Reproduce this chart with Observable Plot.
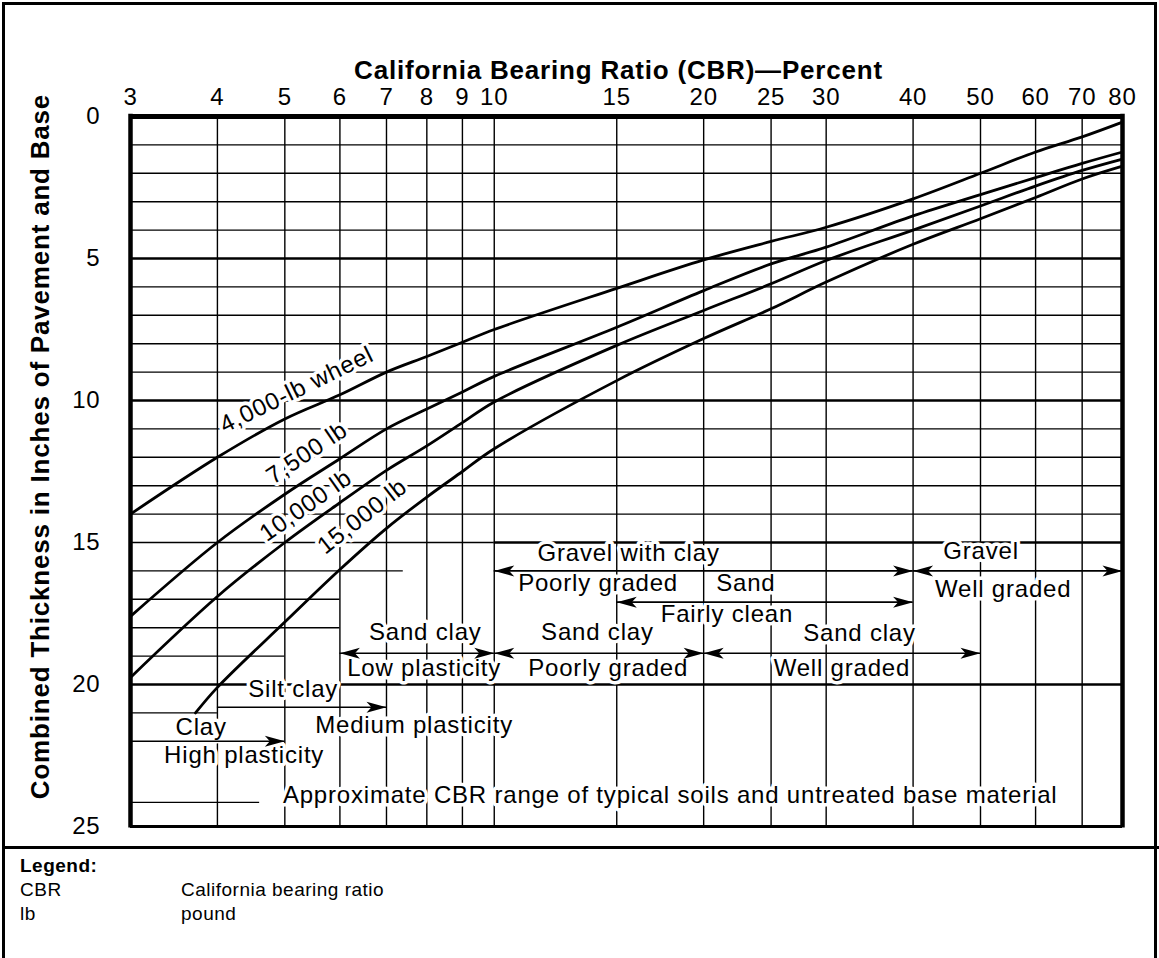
<!DOCTYPE html>
<html>
<head>
<meta charset="utf-8">
<script src="https://cdn.jsdelivr.net/npm/d3@7"></script>
<script src="https://cdn.jsdelivr.net/npm/@observablehq/plot@0.6"></script>
<style>
  body { margin: 0; background: #fff; }
  #wrap { position: relative; width: 1159px; height: 958px; overflow: hidden; font-family: "Liberation Sans", Arial, sans-serif; background:#fff; }
  #chart { position: absolute; left: 0; top: 0; }
  #border { position: absolute; left: 2px; top: 2px; width: 1149px; height: 1000px; border: 3px solid #000; }
  #sep { position: absolute; left: 2px; top: 846px; width: 1157px; height: 3px; background: #000; }
  #legend { position: absolute; left: 20px; top: 854px; font-size: 19px; line-height: 24px; letter-spacing: 0.5px; color: #000; }
  #legend .k { display: inline-block; width: 161px; }
</style>
</head>
<body>
<div id="wrap">
  <div id="chart"></div>
  <div id="border"></div>
  <div id="sep"></div>
  <div id="legend"></div>
</div>
<script>
// ---------- data ----------
const xTitle = "California Bearing Ratio (CBR)\u2014Percent";
const yTitle = "Combined Thickness in Inches of Pavement and Base";
const xTicks = [3, 4, 5, 6, 7, 8, 9, 10, 15, 20, 25, 30, 40, 50, 60, 70, 80];
const yTicks = [0, 5, 10, 15, 20, 25];

const cbr = [3, 4, 5, 6, 7, 8, 9, 10, 15, 20, 25, 30, 40, 50, 60, 70, 80];
const wheel4000  = [14.0, 12.0, 10.65, 9.8, 9.0, 8.45, 7.95, 7.5, 6.05, 5.05, 4.4, 3.9, 2.9, 2.0, 1.25, 0.72, 0.2];
const wheel7500  = [17.6, 15.0, 13.3, 12.05, 11.0, 10.3, 9.7, 9.15, 7.42, 6.13, 5.19, 4.6, 3.5, 2.75, 2.15, 1.65, 1.25];
const wheel10000 = [19.75, 16.9, 15.0, 13.6, 12.46, 11.6, 10.78, 10.05, 8.06, 6.83, 5.89, 5.07, 4.0, 3.15, 2.45, 1.9, 1.5];
const cbr15000   = [3.72, 4, 5, 6, 7, 8, 9, 10, 15, 20, 25, 30, 40, 50, 60, 70, 80];
const wheel15000 = [21.0, 20.1, 17.8, 15.95, 14.5, 13.4, 12.5, 11.7, 9.3, 7.82, 6.77, 5.83, 4.5, 3.6, 2.85, 2.2, 1.75];

const curveLabels = ["4,000-lb wheel", "7,500 lb", "10,000 lb", "15,000 lb"];
const curveLabelCbr = [5.2, 5.38, 5.36, 6.46];
const curveLabelDepth = [9.62, 11.85, 13.7, 14.08];
const curveLabelAngle = [-26, -34, -35, -38];

const soilText  = ["Gravel with clay", "Poorly graded", "Sand", "Fairly clean", "Gravel", "Well graded",
                   "Sand clay", "Low plasticity", "Sand clay", "Poorly graded", "Sand clay", "Well graded",
                   "Silt clay", "Medium plasticity", "Clay", "High plasticity",
                   "Approximate CBR range of typical soils and untreated base material"];
const soilCbr   = [15.6, 14.1, 23.0, 21.6, 50.1, 53.9, 7.96, 7.93, 14.07, 14.58, 33.5, 31.6, 5.14, 7.67, 3.79, 4.37, 17.9];
const soilDepth = [15.38, 16.45, 16.45, 17.52, 15.3, 16.64, 18.16, 19.42, 18.16, 19.42, 18.2, 19.42, 20.18, 21.42, 21.5, 22.5, 23.9];

const rangeDepth = [16, 16, 17.1, 18.9, 18.9, 18.9, 20.8, 22.0];
const rangeFrom  = [10, 40, 15, 6, 10, 20, 4, 3];
const rangeTo    = [40, 80, 40, 10, 20, 50, 7, 5];
const rangeLeftHead = [true, true, true, true, true, true, false, false];

const minorDepths = [1, 2, 3, 4, 6, 7, 8, 9, 11, 12, 13, 14];
const majorDepths = [5, 10, 20];
const partialDepth = [16, 17, 18, 19, 21];
const partialTo    = [7.4, 6, 6, 5, 4];
const leaderDepth = 24.15, leaderTo = 4.6;

const legendKeys = ["CBR", "lb"];
const legendDefs = ["California bearing ratio", "pound"];

// ---------- build ----------
const zip = (xs, ys) => xs.map((x, i) => ({x, y: ys[i]}));
const curves = [
  zip(cbr, wheel4000), zip(cbr, wheel7500), zip(cbr, wheel10000), zip(cbr15000, wheel15000)
];
const curveLab = curveLabels.map((t, i) => ({t, x: curveLabelCbr[i], y: curveLabelDepth[i], a: curveLabelAngle[i]}));
const soil = soilText.map((t, i) => ({t, x: soilCbr[i], y: soilDepth[i]}));
const ranges = rangeDepth.map((y, i) => ({y, x1: rangeFrom[i], x2: rangeTo[i], left: rangeLeftHead[i]}));
const rightHeads = ranges.map(r => ({x: r.x2, y: r.y}));
const leftHeads = ranges.filter(r => r.left).map(r => ({x: r.x1, y: r.y}));
const partial = partialDepth.map((y, i) => ({y, x2: partialTo[i]}));

const headRight = {draw(ctx) { ctx.moveTo(0, 0); ctx.lineTo(-20, -5.5); ctx.lineTo(-15, 0); ctx.lineTo(-20, 5.5); ctx.closePath(); }};
const headLeft  = {draw(ctx) { ctx.moveTo(0, 0); ctx.lineTo(20, -5.5); ctx.lineTo(15, 0); ctx.lineTo(20, 5.5); ctx.closePath(); }};

const FONT = '"Liberation Sans", Arial, Helvetica, sans-serif';
const halo = {stroke: "white", strokeWidth: 7, paintOrder: "stroke", fill: "black"};

const plot = Plot.plot({
  width: 1159,
  height: 848,
  marginTop: 116,
  marginLeft: 130,
  marginRight: 37,
  marginBottom: 22,
  style: {fontFamily: FONT, color: "black", background: "white", overflow: "visible"},
  x: {type: "log", domain: [3, 80], axis: null},
  y: {domain: [0, 25], reverse: true},
  marks: [
    // grid
    Plot.ruleY(minorDepths, {x1: 3, x2: 80, stroke: "black", strokeWidth: 1.4}),
    Plot.ruleY(majorDepths, {x1: 3, x2: 80, stroke: "black", strokeWidth: 2.6}),
    Plot.ruleY([15], {x1: 3, x2: 10, stroke: "black", strokeWidth: 1.6}),
    Plot.ruleY([15], {x1: 10, x2: 80, stroke: "black", strokeWidth: 2.6}),
    Plot.ruleY(partial, {y: "y", x1: 3, x2: "x2", stroke: "black", strokeWidth: 1.4}),
    Plot.ruleY([leaderDepth], {x1: 3, x2: leaderTo, stroke: "black", strokeWidth: 1.4}),
    Plot.ruleX(xTicks.slice(1, -1), {y1: 0, y2: 25, stroke: "black", strokeWidth: 1.4}),
    // texts with white halos
    Plot.text(soil, {x: "x", y: "y", text: "t", fontSize: 24, lineAnchor: "middle", ...halo}),
    Plot.text(curveLab, {x: "x", y: "y", text: "t", rotate: "a", fontSize: 24, lineAnchor: "middle", ...halo}),
    // range arrows
    Plot.ruleY(ranges, {y: "y", x1: "x1", x2: "x2", stroke: "black", strokeWidth: 1.6}),
    Plot.dot(rightHeads, {x: "x", y: "y", r: 5, symbol: headRight, fill: "black", stroke: "none"}),
    Plot.dot(leftHeads, {x: "x", y: "y", r: 5, symbol: headLeft, fill: "black", stroke: "none"}),
    // curves
    ...curves.map(c => Plot.line(c, {x: "x", y: "y", curve: "catmull-rom", stroke: "black", strokeWidth: 2.8})),
    // frame
    Plot.ruleY([0], {stroke: "black", strokeWidth: 5}),
    Plot.ruleY([25], {stroke: "black", strokeWidth: 3}),
    Plot.ruleX([3], {y1: -0.08, y2: 25.05, stroke: "black", strokeWidth: 4.5}),
    Plot.ruleX([80], {y1: -0.08, y2: 25.05, stroke: "black", strokeWidth: 4.5}),
    // tick labels
    Plot.text(xTicks, {x: d => d, text: d => String(d), frameAnchor: "top", lineAnchor: "bottom", dy: -12, fontSize: 24}),
    Plot.axisY({anchor: "left", ticks: yTicks, tickFormat: d => String(d), tickSize: 0, tickPadding: 30, fontSize: 24, label: null}),
    // titles
    Plot.text([xTitle], {text: d => d, frameAnchor: "top", lineAnchor: "middle", dy: -46, dx: -8, fontSize: 26, fontWeight: "bold"}),
    Plot.text([yTitle], {text: d => d, frameAnchor: "left", textAnchor: "middle", lineAnchor: "middle", rotate: -90, dx: -90, dy: -25, fontSize: 26, fontWeight: "bold"})
  ]
});
plot.style.letterSpacing = "0.8px";
document.getElementById("chart").appendChild(plot);

// legend
const lg = document.getElementById("legend");
const head = document.createElement("div");
head.style.fontWeight = "bold";
head.textContent = "Legend:";
lg.appendChild(head);
legendKeys.forEach((k, i) => {
  const row = document.createElement("div");
  const ks = document.createElement("span");
  ks.className = "k"; ks.textContent = k;
  row.appendChild(ks);
  row.appendChild(document.createTextNode(legendDefs[i]));
  lg.appendChild(row);
});
</script>
</body>
</html>
